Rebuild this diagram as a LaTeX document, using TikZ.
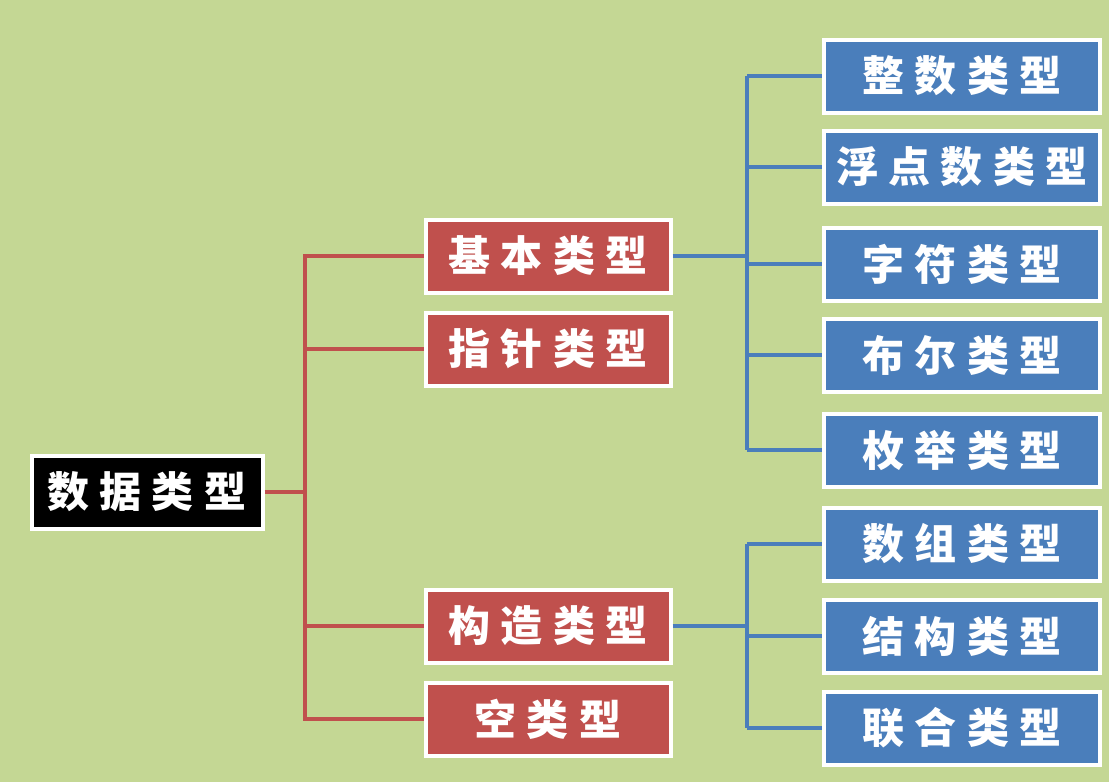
\documentclass[tikz,border=0pt]{standalone}
\usepackage{fontspec}
\newfontfamily\cjk[LetterSpace=24]{Noto Sans CJK SC}
\definecolor{dtGreen}{RGB}{196,215,148}
\definecolor{dtRed}{RGB}{192,80,77}
\definecolor{dtBlue}{RGB}{74,126,187}

\tikzset{
  dtbox/.style={draw=white, line width=4pt, text=white, inner sep=0pt,
    font=\cjk\bfseries\fontsize{42}{42}\selectfont, minimum height=73pt},
  dtroot/.style={dtbox, fill=black, minimum width=231pt},
  dtmid/.style={dtbox, fill=dtRed, minimum width=245pt},
  dtleaf/.style={dtbox, fill=dtBlue, minimum width=276pt},
  dtred/.style={draw=dtRed, line width=4pt},
  dtblue/.style={draw=dtBlue, line width=4pt}
}

\begin{document}
\begin{tikzpicture}[x=1pt, y=-1pt]
\fill[dtGreen] (0,0) rectangle (1109,782);
\useasboundingbox (0,0) rectangle (1109,782);

\node[dtroot] (sjlx) at (147,492) {数据类型};

\node[dtmid] (jblx) at (548,256) {基本类型};
\node[dtmid] (zzlx) at (548,349) {指针类型};
\node[dtmid] (gzlx) at (548,626) {构造类型};
\node[dtmid] (klx) at (548,719) {空类型};

\node[dtleaf] (zslx) at (962,76) {整数类型};
\node[dtleaf] (fdlx) at (962,167) {浮点数类型};
\node[dtleaf] (zflx) at (962,264) {字符类型};
\node[dtleaf] (belx) at (962,355) {布尔类型};
\node[dtleaf] (mjlx) at (962,450) {枚举类型};

\node[dtleaf] (szlx) at (962,544) {数组类型};
\node[dtleaf] (jglx) at (962,636) {结构类型};
\node[dtleaf] (lhlx) at (962,728) {联合类型};

\coordinate (redbus) at (305,492);
\coordinate (bluebus) at (747,0);

\draw[dtred] (sjlx.east) -- (redbus);
\draw[dtred] (redbus) |- (jblx.west);
\draw[dtred] (redbus) |- (zzlx.west);
\draw[dtred] (redbus) |- (gzlx.west);
\draw[dtred] (redbus) |- (klx.west);

\draw[dtblue] (jblx.east) -- (jblx.east -| bluebus);
\draw[dtblue] (zslx.west -| bluebus) -- (mjlx.west -| bluebus);
\draw[dtblue] (zslx.west -| bluebus) -- (zslx.west);
\draw[dtblue] (fdlx.west -| bluebus) -- (fdlx.west);
\draw[dtblue] (zflx.west -| bluebus) -- (zflx.west);
\draw[dtblue] (belx.west -| bluebus) -- (belx.west);
\draw[dtblue] (mjlx.west -| bluebus) -- (mjlx.west);

\draw[dtblue] (gzlx.east) -- (gzlx.east -| bluebus);
\draw[dtblue] (szlx.west -| bluebus) -- (lhlx.west -| bluebus);
\draw[dtblue] (szlx.west -| bluebus) -- (szlx.west);
\draw[dtblue] (jglx.west -| bluebus) -- (jglx.west);
\draw[dtblue] (lhlx.west -| bluebus) -- (lhlx.west);
\end{tikzpicture}
\end{document}
